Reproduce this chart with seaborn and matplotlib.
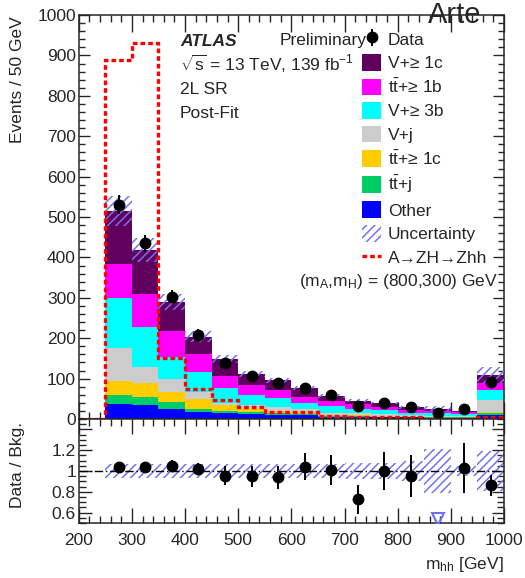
import numpy as np
import pandas as pd
import matplotlib
matplotlib.use("Agg")
import matplotlib.pyplot as plt
import seaborn as sns
from matplotlib.patches import Patch
from matplotlib.lines import Line2D
from matplotlib.ticker import MultipleLocator, FixedLocator, FuncFormatter

# ---------------- data ----------------
bin_edges = [200, 250, 300, 350, 400, 450, 500, 550, 600, 650, 700, 750, 800, 850, 900, 950, 1000]
bin_centers = [275, 325, 375, 425, 475, 525, 575, 625, 675, 725, 775, 825, 875, 925, 975]

other = [37, 34, 25, 18, 14, 12, 10, 9, 6, 5, 4, 4, 3, 3, 10]
tt_j = [22, 20, 18, 8, 7, 5, 4, 3, 2, 2, 2, 2, 1, 1, 4]
tt_1c = [36, 34, 25, 23, 14, 9, 7, 6, 2, 3, 2, 1, 2, 2, 4]
v_j = [81, 42, 30, 19, 5, 9, 9, 8, 4, 4, 4, 3, 2, 2, 29]
v_3b = [124, 97, 56, 48, 36, 24, 21, 13, 18, 12, 10, 6, 6, 5, 25]
tt_1b = [83, 82, 65, 44, 30, 25, 21, 16, 13, 11, 9, 6, 7, 4, 18]
v_1c = [132, 109, 70, 44, 42, 27, 24, 22, 12, 8, 9, 7, 5, 3, 19]

data_events = [531, 435, 303, 208, 139, 106, 89, 78, 59, 33, 39, 29, 14, 24, 92]
data_err = [23, 21, 17, 14, 12, 10, 9, 9, 8, 6, 6, 5, 4, 5, 10]

signal = [0, 889, 931, 150, 74, 47, 29, 18, 18, 7, 5, 5, 5, 0, 0, 5]  # includes 200-250 bin

rel_unc = [0.07, 0.07, 0.07, 0.07, 0.07, 0.07, 0.07, 0.07, 0.07, 0.08, 0.08, 0.10, 0.21, 0.05, 0.19]

ratio_vals = [1.04, 1.04, 1.05, 1.02, 0.955, 0.95, 0.94, 1.04, 1.01, 0.73, 1.0, 0.955, np.nan, 1.03, 0.865]
ratio_err = [0.03, 0.04, 0.06, 0.06, 0.09, 0.10, 0.11, 0.13, 0.14, 0.14, 0.18, 0.20, np.nan, 0.24, 0.10]
offscale_x = [875]
offscale_y = [0.535]

process_labels = [r"V+≥ 1c", r"$t\bar{t}$+≥ 1b", r"V+≥ 3b", r"V+j",
                  r"$t\bar{t}$+≥ 1c", r"$t\bar{t}$+j", r"Other"]
process_colors = ["#5f005f", "#ff00ff", "#00ffff", "#cccccc", "#ffcc00", "#00cc66", "#0000ff"]
process_values = [v_1c, tt_1b, v_3b, v_j, tt_1c, tt_j, other]

# ---------------- style ----------------
sns.set_style("ticks")
plt.rcParams['font.family'] = ['Liberation Sans', 'DejaVu Sans']
plt.rcParams['mathtext.fontset'] = 'custom'
plt.rcParams['mathtext.rm'] = 'Liberation Sans'
plt.rcParams['mathtext.it'] = 'Liberation Sans:italic'
plt.rcParams['mathtext.bf'] = 'Liberation Sans:bold'
plt.rcParams['mathtext.default'] = 'regular'
plt.rcParams['hatch.linewidth'] = 1.1
plt.rcParams['axes.linewidth'] = 1.1

FS = 12.5
unc_color = "#7373ee"

fig = plt.figure(figsize=(5.25, 5.78), dpi=100)
ax = fig.add_axes([0.150, 0.275, 0.810, 0.699])
rax = fig.add_axes([0.150, 0.095, 0.810, 0.180])

# stacked backgrounds via seaborn
rows = []
for lab, vals in zip(process_labels, process_values):
    for c, v in zip(bin_centers, vals):
        rows.append({"mhh": c, "events": v, "process": lab})
df = pd.DataFrame(rows)
sns.histplot(data=df, x="mhh", weights="events", hue="process",
             hue_order=process_labels, palette=dict(zip(process_labels, process_colors)),
             multiple="stack", bins=bin_edges, element="bars", fill=True,
             alpha=1, linewidth=0, edgecolor="none", legend=False, ax=ax)

total = np.sum(np.array(process_values), axis=0)
rel = np.array(rel_unc)
ax.bar(bin_centers, 2 * total * rel, bottom=total * (1 - rel), width=50,
       fill=False, hatch='////', edgecolor=unc_color, linewidth=0, zorder=3)

ax.stairs(signal, bin_edges, color='red', linewidth=2.4,
          linestyle=(0, (1.4, 0.9)), baseline=None, zorder=4)

data_h = ax.errorbar(bin_centers, data_events, yerr=data_err, fmt='o', color='black',
                     markersize=7.5, elinewidth=1.4, capsize=0, zorder=5)

ax.set_xlim(200, 1000)
ax.set_ylim(0, 1000)
ax.set_xlabel("")
ax.set_ylabel("")
ax.xaxis.set_major_locator(MultipleLocator(100))
ax.xaxis.set_minor_locator(MultipleLocator(20))
ax.yaxis.set_major_locator(MultipleLocator(100))
ax.yaxis.set_minor_locator(MultipleLocator(20))
ax.tick_params(which='both', direction='in', top=True, right=True, labelbottom=False,
               labelsize=FS, width=1.0)
ax.tick_params(axis='y', which='major', length=8, pad=2)
ax.tick_params(axis='y', which='minor', length=4)
ax.tick_params(axis='x', which='major', length=12)
ax.tick_params(axis='x', which='minor', length=5)

# texts
fig.text(180 / 525, 1 - 41 / 578, "ATLAS", fontsize=FS, fontweight='bold', fontstyle='italic', va='center')
fig.text(280 / 525, 1 - 41 / 578, "Preliminary", fontsize=FS, va='center')
fig.text(180 / 525, 1 - 64 / 578, r"$\sqrt{s}$ = 13 TeV, 139 fb$^{-1}$", fontsize=FS, va='center')
fig.text(180 / 525, 1 - 90 / 578, "2L SR", fontsize=FS, va='center')
fig.text(180 / 525, 1 - 113 / 578, "Post-Fit", fontsize=FS, va='center')

# legend
handles = [data_h]
labels = ["Data"]
for lab, col in zip(process_labels, process_colors):
    handles.append(Patch(facecolor=col, edgecolor='none'))
    labels.append(lab)
handles.append(Patch(facecolor='none', edgecolor=unc_color, hatch='////', linewidth=0))
labels.append("Uncertainty")
handles.append(Line2D([], [], color='red', linewidth=2.4, linestyle=(0, (1.4, 0.9))))
labels.append("A→ZH→Zhh")
leg = ax.legend(handles, labels, loc='upper left', bbox_to_anchor=(0.666, 0.962),
                frameon=False, fontsize=FS, handlelength=1.1, handleheight=1.1,
                handletextpad=0.4, labelspacing=0.365, borderpad=0, borderaxespad=0)
fig.text(498 / 525, 1 - 282 / 578, r"(m$_\mathrm{A}$,m$_\mathrm{H}$) = (800,300) GeV",
         fontsize=FS, ha='right', va='center')

# ---------------- ratio panel ----------------
rax.bar(bin_centers, 2 * rel, bottom=1 - rel, width=50, fill=False, hatch='////',
        edgecolor=unc_color, linewidth=0, zorder=2)
rax.axhline(1.0, color='black', linewidth=1.0, linestyle=(0, (6, 2, 1, 2)), zorder=3)
rax.errorbar(bin_centers, ratio_vals, yerr=ratio_err, fmt='o', color='black',
             markersize=7.5, elinewidth=1.4, capsize=0, zorder=5)
rax.plot(offscale_x, offscale_y, marker='v', markersize=9, markerfacecolor='none',
         markeredgecolor='#6f6ff5', markeredgewidth=1.5, linestyle='none', zorder=5)
rax.set_xlim(200, 1000)
rax.set_ylim(0.5, 1.5)
rax.xaxis.set_major_locator(MultipleLocator(100))
rax.xaxis.set_minor_locator(MultipleLocator(20))
rax.yaxis.set_major_locator(FixedLocator([0.6, 0.8, 1.0, 1.2, 1.4]))
rax.yaxis.set_minor_locator(MultipleLocator(0.05))
rax.yaxis.set_major_formatter(FuncFormatter(
    lambda v, p: "" if v > 1.3 else ("1" if abs(v - 1) < 1e-6 else f"{v:.1f}")))
rax.tick_params(which='both', direction='in', top=True, right=True, labelsize=FS, width=1.0)
rax.tick_params(axis='x', which='major', length=11, pad=7)
rax.tick_params(axis='x', which='minor', length=5)
rax.tick_params(axis='y', which='major', length=9, pad=2)
rax.tick_params(axis='y', which='minor', length=5)
rax.set_xlabel("")
rax.set_ylabel("")

fig.text(18 / 525, 1 - 16 / 578, "Events / 50 GeV", fontsize=FS, rotation=90, ha='center', va='top')
fig.text(18 / 525, 1 - 465 / 578, "Data / Bkg.", fontsize=FS, rotation=90, ha='center', va='center')
fig.text(504 / 525, 1 - 565 / 578, r"m$_\mathrm{hh}$ [GeV]", fontsize=FS, ha='right', va='center')

# slide title fragment at the very top right
fig.text(428 / 525, 0.999, "Arte", fontsize=21, va='top', ha='left')

fig.savefig("out.png", dpi=100)
